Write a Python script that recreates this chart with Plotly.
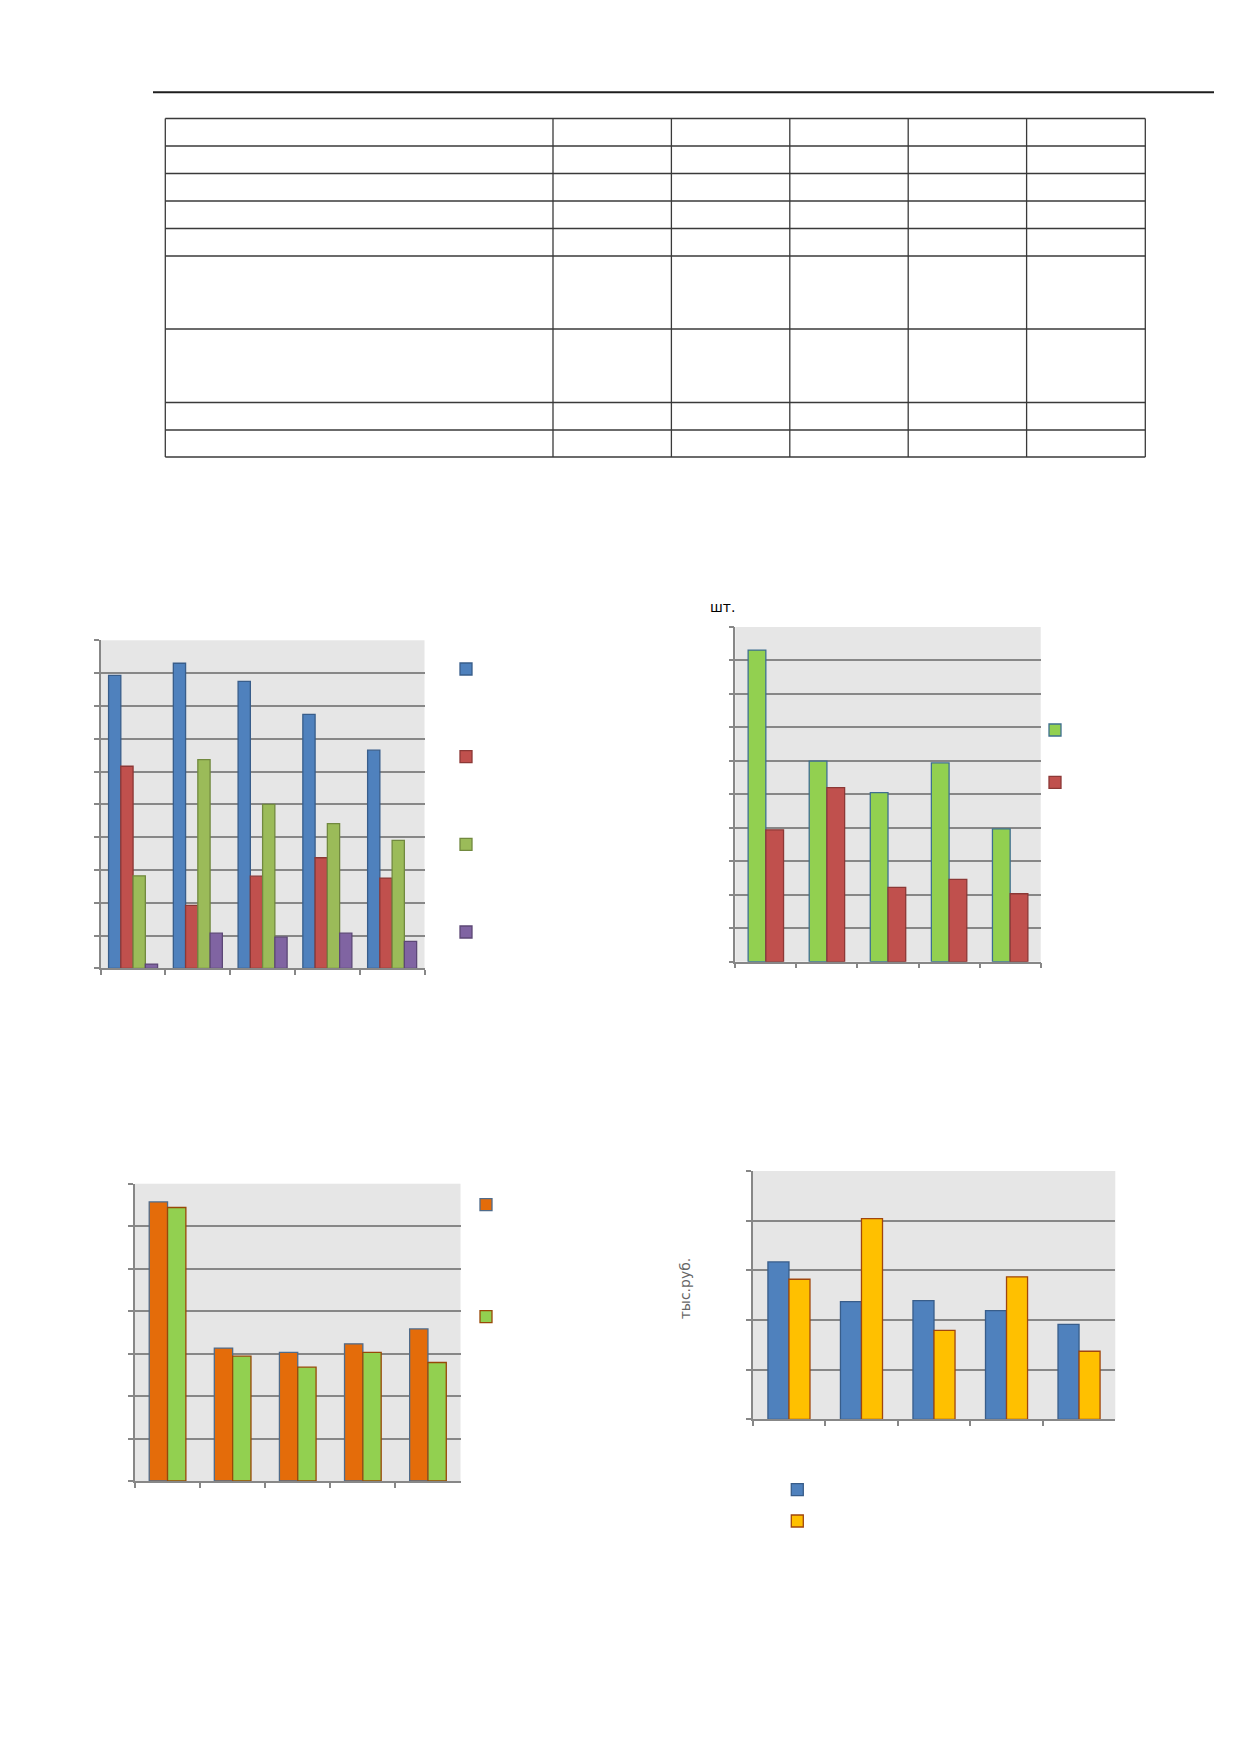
import plotly.graph_objects as go

W, H = 1239, 1754

# ---------------- data (in gridline units) ----------------
categories = ["1", "2", "3", "4", "5"]

c1_blue = [8.93, 9.30, 8.75, 7.74, 6.65]
c1_red = [6.16, 1.92, 2.81, 3.37, 2.75]
c1_green = [2.82, 6.36, 5.00, 4.41, 3.90]
c1_purple = [0.13, 1.07, 0.95, 1.07, 0.82]

c2_green = [9.31, 5.99, 5.05, 5.94, 3.97]
c2_red = [3.94, 5.20, 2.22, 2.46, 2.03]

c3_orange = [6.57, 3.13, 3.03, 3.23, 3.58]
c3_green = [6.44, 2.94, 2.68, 3.03, 2.79]

c4_blue = [3.17, 2.37, 2.39, 2.19, 1.91]
c4_yellow = [2.82, 4.04, 1.79, 2.87, 1.37]

label_c2 = "шт."
label_c4 = "тыс.руб."

# ---------------- helpers ----------------
def px(x):
    return x / W

def py(y):
    return 1 - y / H

GRID = "#878787"
FONT = "DejaVu Sans"

fig = go.Figure()

def bar(x_ax, y_ax, vals, fill, line, leg):
    fig.add_trace(go.Bar(
        x=categories, y=vals, name="", xaxis=x_ax, yaxis=y_ax,
        marker=dict(color=fill, line=dict(color=line, width=1.3)),
        legend=leg, showlegend=True, hoverinfo="skip",
    ))

# chart 1
bar("x", "y", c1_blue, "#4f81bd", "#385d8a", "legend")
bar("x", "y", c1_red, "#c0504d", "#8c3836", "legend2")
bar("x", "y", c1_green, "#9bbb59", "#71893f", "legend3")
bar("x", "y", c1_purple, "#8064a2", "#5c4776", "legend4")
# chart 2
bar("x2", "y2", c2_green, "#92d050", "#3e6f8f", "legend5")
bar("x2", "y2", c2_red, "#c0504d", "#8c3836", "legend6")
# chart 3
bar("x3", "y3", c3_orange, "#e46c0a", "#4f6b8a", "legend7")
bar("x3", "y3", c3_green, "#92d050", "#984807", "legend8")
# chart 4
bar("x4", "y4", c4_blue, "#4f81bd", "#385d8a", "legend9")
bar("x4", "y4", c4_yellow, "#ffc000", "#a0460d", "legend10")

# plot areas in pixel coords: (left, right, top, bottom, ymax)
areas = {
    "": (100.7, 424.5, 640.3, 968.3, 10),
    "2": (735.3, 1040.7, 627.0, 961.7, 10),
    "3": (135.0, 460.5, 1183.7, 1481.0, 7),
    "4": (752.7, 1115.3, 1171.0, 1419.3, 5),
}

layout = dict(
    width=W, height=H, margin=dict(l=0, r=0, t=0, b=0, pad=0),
    paper_bgcolor="white", plot_bgcolor="#e6e6e6",
    font=dict(family=FONT, size=12, color="#000"),
    barmode="group", bargroupgap=0,
)

for k, (l, r, t, b, ymax) in areas.items():
    layout["xaxis" + k] = dict(
        domain=[px(l), px(r)], anchor="y" + k, type="category",
        range=[-0.5, 4.5], tickson="boundaries", ticks="outside", ticklen=5,
        tickcolor=GRID, tickwidth=1.5, showline=True, linecolor=GRID,
        linewidth=1.5, showgrid=False, showticklabels=False, fixedrange=True,
    )
    layout["yaxis" + k] = dict(
        domain=[py(b), py(t)], anchor="x" + k, range=[0, ymax], dtick=1,
        ticks="outside", ticklen=5, tickcolor=GRID, tickwidth=1.5,
        showline=True, linecolor=GRID, linewidth=1.5, showgrid=True,
        gridcolor=GRID, gridwidth=1.5, zeroline=False,
        showticklabels=False, fixedrange=True,
    )

fig.update_layout(**layout)

# legends: one per series, marker centres in px
leg_pos = [
    (466, 669), (466, 756.7), (466, 844.3), (466, 932),
    (1055, 730), (1055, 782.3),
    (486, 1204.7), (486, 1316.7),
    (797.3, 1489.7), (797.3, 1521),
]
for i, (cx, cy) in enumerate(leg_pos):
    key = "legend" if i == 0 else "legend%d" % (i + 1)
    fig.update_layout({key: dict(
        x=px(cx - 20), y=py(cy - 14.5), xanchor="left", yanchor="top",
        bgcolor="rgba(0,0,0,0)", borderwidth=0, font=dict(size=10),
        itemclick=False, itemdoubleclick=False,
    )})

# header rule and table grid
shapes = [dict(type="line", xref="paper", yref="paper",
               x0=px(153), x1=px(1214), y0=py(92.3), y1=py(92.3),
               line=dict(color="#1e1e1e", width=2))]
col_edges = [165.3, 553, 671.4, 789.8, 908.2, 1026.6, 1145.3]
row_edges = [118.5, 146, 173.5, 201, 228.5, 256, 329, 402.5, 430, 457]
for yv in row_edges:
    shapes.append(dict(type="line", xref="paper", yref="paper",
                       x0=px(col_edges[0]), x1=px(col_edges[-1]), y0=py(yv), y1=py(yv),
                       line=dict(color="#3a3a3a", width=1.3)))
for xv in col_edges:
    shapes.append(dict(type="line", xref="paper", yref="paper",
                       x0=px(xv), x1=px(xv), y0=py(row_edges[0]), y1=py(row_edges[-1]),
                       line=dict(color="#3a3a3a", width=1.3)))
fig.update_layout(shapes=shapes)

fig.add_annotation(text=label_c2, xref="paper", yref="paper", x=px(708), y=py(607.3),
                   xanchor="left", yanchor="middle", showarrow=False,
                   font=dict(family=FONT, size=14, color="#000"))
fig.add_annotation(text=label_c4, xref="paper", yref="paper", x=px(685), y=py(1288.3),
                   xanchor="center", yanchor="middle", showarrow=False, textangle=-90,
                   font=dict(family=FONT, size=14, color="#666"))

# bar widths / offsets per chart (gap between groups differs per chart)
n_in_group = {"x": 4, "x2": 2, "x3": 2, "x4": 2}
gap_by_axis = {"x": 0.243, "x2": 0.42, "x3": 0.437, "x4": 0.42}
counters = {}
for tr in fig.data:
    ax = tr.xaxis
    n = n_in_group[ax]
    j = counters.get(ax, 0)
    counters[ax] = j + 1
    w = (1 - gap_by_axis[ax]) / n
    tr.width = w
    tr.offset = -(1 - gap_by_axis[ax]) / 2 + j * w

fig.write_html("out.html", config={"displayModeBar": False},
               post_script="document.body.style.margin='0px';")
